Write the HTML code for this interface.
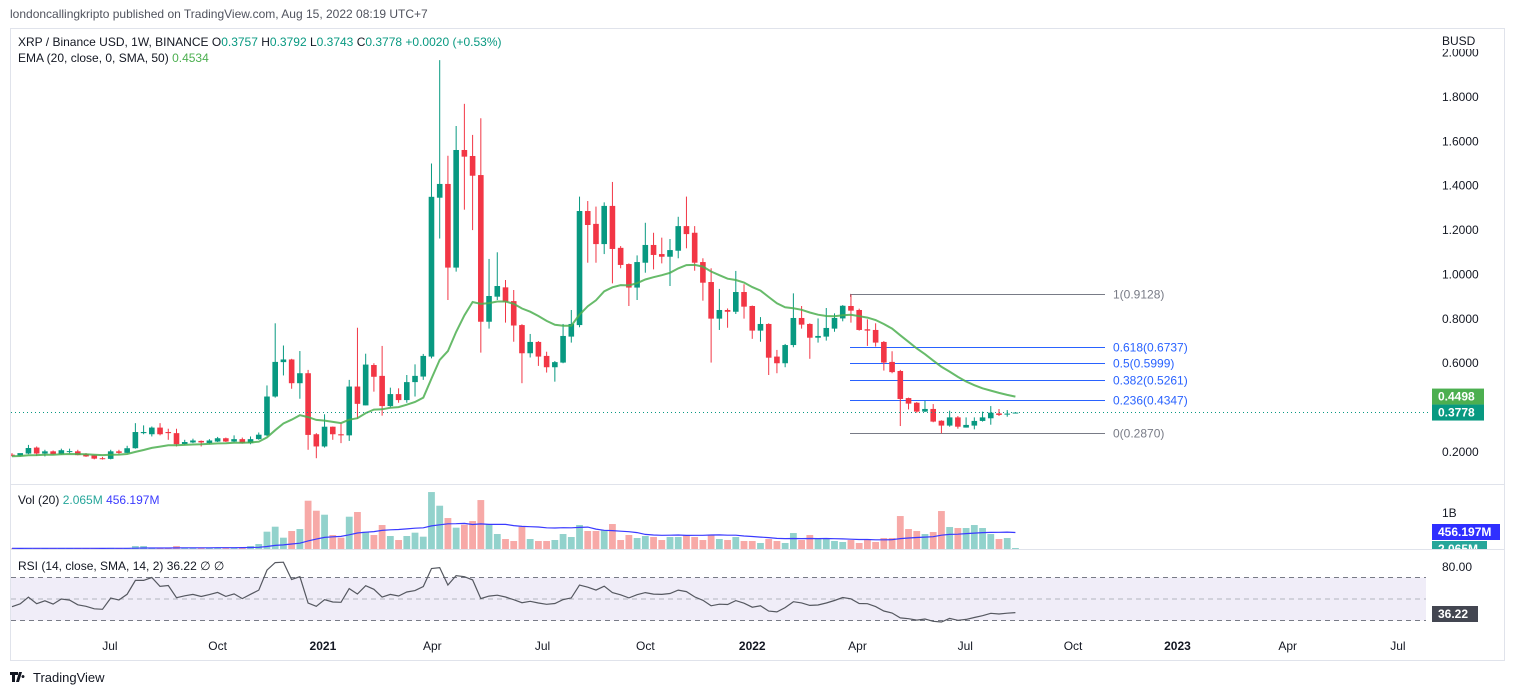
<!DOCTYPE html>
<html><head><meta charset="utf-8">
<style>
html,body{margin:0;padding:0;background:#fff;width:1514px;height:695px;overflow:hidden;font-family:"Liberation Sans",sans-serif;}
svg text{font-family:"Liberation Sans",sans-serif;}
</style></head>
<body>
<svg id="chart" width="1514" height="695" viewBox="0 0 1514 695" xmlns="http://www.w3.org/2000/svg">
  <defs>
    <clipPath id="pclip"><rect x="11" y="29" width="1415" height="455"/></clipPath>
    <clipPath id="aclip"><rect x="1426" y="49" width="80" height="436"/></clipPath>
    <clipPath id="vclip"><rect x="11" y="485" width="1493" height="64"/></clipPath>
    <clipPath id="vlclip"><rect x="1426" y="485" width="80" height="64"/></clipPath>
  </defs>
  <text x="10" y="18" font-size="12" fill="#50535e">londoncallingkripto published on TradingView.com, Aug 15, 2022 08:19 UTC+7</text>
  <rect x="10.5" y="28.5" width="1494" height="632" fill="none" stroke="#e0e3eb"/>
  <line x1="10" y1="484.5" x2="1505" y2="484.5" stroke="#e0e3eb"/>
  <line x1="10" y1="549.5" x2="1505" y2="549.5" stroke="#e0e3eb"/>
  <g id="rsiBand"></g>
  <g id="axisLabels" clip-path="url(#aclip)"></g>
  <g id="fib"></g>
  <g id="candles" clip-path="url(#pclip)"></g>
  <g id="vol" clip-path="url(#vclip)"></g>
  <g id="rsi"></g>
  <g id="time"></g>
  <g id="labels"></g>
  <g id="vlabels" clip-path="url(#vlclip)"></g>
  <text x="18" y="46" font-size="12" fill="#131722">XRP / Binance USD, 1W, BINANCE <tspan fill="#131722">O</tspan><tspan fill="#089981">0.3757</tspan> <tspan>H</tspan><tspan fill="#089981">0.3792</tspan> <tspan>L</tspan><tspan fill="#089981">0.3743</tspan> <tspan>C</tspan><tspan fill="#089981">0.3778 +0.0020 (+0.53%)</tspan></text>
  <text x="18" y="62" font-size="12" fill="#131722">EMA (20, close, 0, SMA, 50) <tspan fill="#4caf50">0.4534</tspan></text>
  <text x="18" y="504" font-size="12" fill="#131722">Vol (20) <tspan fill="#26a69a">2.065M</tspan> <tspan fill="#3a3aff">456.197M</tspan></text>
  <text x="18" y="570" font-size="12" fill="#131722">RSI (14, close, SMA, 14, 2) 36.22 <tspan>∅</tspan> <tspan>∅</tspan></text>
  <text x="1442" y="45" font-size="12" fill="#131722">BUSD</text>
  <text x="1442" y="517" font-size="12" fill="#131722">1B</text>
  <text x="1442" y="571" font-size="12" fill="#131722">80.00</text>
  <g>
    <path d="M10 672h8v3h-3v7h-3v-7h-2z M19 672h3l-3 10h-3z M23 675a1.5 1.5 0 1 0 0.01 0z" fill="#131722"/>
    <text x="33" y="682" font-size="13" fill="#131722">TradingView</text>
  </g>
</svg>
<script>
const opens=[.188,.183,.193,.220,.193,.203,.19,.2,.203,.19,.185,.172,.169,.203,.196,.217,.285,.28,.31,.29,.285,.236,.243,.25,.24,.247,.262,.247,.258,.24,.258,.275,.45,.605,.617,.51,.555,.28,.225,.314,.28,.275,.495,.41,.592,.543,.407,.461,.434,.515,.54,.63,1.346,1.408,1.031,1.561,1.534,1.448,.787,.9,.942,.88,.772,.645,.696,.633,.582,.603,.72,.772,1.286,1.228,1.137,1.309,1.12,1.047,.941,1.053,1.133,1.092,1.08,1.107,1.218,1.188,1.056,.966,.801,.84,.832,.921,.858,.747,.777,.63,.6,.682,.804,.777,.715,.72,.756,.802,.858,.84,.753,.75,.696,.606,.565,.443,.422,.382,.394,.341,.319,.356,.31,.319,.34,.352,.374,.37,.3757];
const highs=[.195,.19,.232,.225,.21,.207,.215,.215,.21,.195,.187,.178,.21,.21,.228,.33,.32,.315,.33,.305,.305,.255,.26,.252,.258,.268,.265,.275,.265,.27,.288,.5,.78,.68,.62,.655,.57,.285,.37,.315,.33,.525,.76,.643,.6,.678,.49,.487,.547,.595,.642,1.5,1.966,1.535,1.669,1.769,1.629,1.704,1.07,1.1,.975,.93,.776,.732,.7,.652,.61,.777,.84,1.351,1.331,1.306,1.325,1.417,1.128,1.05,1.086,1.233,1.188,1.166,1.16,1.26,1.351,1.218,1.073,1.028,.935,.847,1.016,.956,.86,.808,.78,.66,.687,.915,.858,.78,.802,.849,.825,.862,.91,.846,.798,.78,.7,.654,.57,.445,.425,.431,.416,.343,.386,.362,.356,.356,.382,.407,.394,.389,.3792];
const lows=[.18,.18,.19,.182,.18,.188,.188,.193,.185,.178,.167,.166,.167,.19,.195,.215,.28,.27,.275,.255,.225,.232,.24,.225,.235,.245,.245,.243,.238,.235,.255,.272,.445,.545,.485,.44,.21,.172,.22,.255,.24,.25,.35,.41,.472,.364,.40,.422,.422,.45,.525,.622,1.162,.885,1.013,1.292,1.2,.648,.756,.885,.783,.697,.51,.626,.588,.558,.517,.6,.693,.762,1.053,1.053,1.092,.96,1.028,.858,.885,1.008,1.023,1.05,.948,1.073,1.118,1.017,.882,.603,.75,.76,.822,.801,.71,.697,.547,.555,.582,.672,.756,.62,.693,.702,.742,.789,.783,.747,.678,.675,.567,.555,.317,.392,.377,.38,.334,.284,.314,.305,.31,.302,.337,.323,.362,.359,.3743];
const closes=[.186,.195,.218,.193,.203,.19,.208,.204,.186,.18,.17,.168,.203,.196,.217,.29,.29,.31,.28,.285,.235,.245,.252,.243,.252,.262,.247,.258,.24,.258,.278,.45,.606,.617,.51,.555,.277,.225,.314,.28,.275,.495,.417,.594,.539,.407,.461,.434,.515,.543,.633,1.35,1.408,1.031,1.561,1.531,1.445,.787,.903,.948,.877,.77,.645,.696,.63,.582,.605,.723,.777,1.286,1.223,1.137,1.309,1.115,1.043,.941,1.056,1.133,1.088,1.08,1.11,1.218,1.182,1.053,.963,.801,.84,.832,.921,.855,.747,.777,.625,.6,.682,.804,.774,.715,.723,.759,.804,.859,.837,.75,.747,.693,.603,.56,.439,.418,.382,.394,.337,.319,.356,.314,.322,.34,.356,.377,.367,.373,.3778];
const volumes=[20,15,25,20,15,15,20,15,20,15,18,12,30,15,25,80,80,40,40,35,80,35,30,35,30,35,30,35,30,80,135,468,603,306,486,540,1305,1035,927,378,306,873,1000,468,378,648,351,243,351,441,333,1539,1170,837,576,657,756,1323,666,405,270,216,603,270,216,216,243,405,324,648,486,486,513,675,243,378,297,351,324,243,324,324,378,324,243,378,270,243,324,216,216,162,270,216,162,432,243,378,297,297,216,189,243,162,243,189,297,297,891,540,486,405,459,1026,594,567,567,648,567,405,270,297,27];
const priceTicks=[0.2,0.6,0.8,1.0,1.2,1.4,1.6,1.8,2.0];
const fibLevels=[0,0.236,0.382,0.5,0.618,1];
const fibLow=0.2870, fibHigh=0.9128;
const timeLabels=["Jul","Oct","2021","Apr","Jul","Oct","2022","Apr","Jul","Oct","2023","Apr","Jul"];
const timeWeeks=[11.9,25.0,37.8,51.1,64.5,77.0,90.0,102.8,115.9,129.0,141.7,155.1,168.5];

const NS="http://www.w3.org/2000/svg";
function mk(tag,attrs,parent){const e=document.createElementNS(NS,tag);for(const k in attrs)e.setAttribute(k,attrs[k]);parent.appendChild(e);return e;}
const xOf=i=>12+i*8.225;
const yP=p=>452-(p-0.2)*221.9;
const yV=v=>549-v*0.037;
const yR=r=>599-(r-50)*1.075;
const UP="#089981",DN="#f23645";

const ax=document.getElementById('axisLabels');
priceTicks.forEach(t=>{const e=mk('text',{x:1442,y:yP(t)+4,'font-size':12,fill:'#131722'},ax);e.textContent=t.toFixed(4);

});

const cg=document.getElementById('candles');
const last=closes[closes.length-1];
const dl=mk('line',{x1:11,x2:1430,y1:yP(last),y2:yP(last),stroke:UP,'stroke-width':1,'stroke-dasharray':'1 3'},document.getElementById('chart'));



for(let i=0;i<opens.length;i++){
  const up=closes[i]>=opens[i];const col=up?UP:DN;const x=xOf(i);
  const g=mk('g',{},cg);
  
  
  mk('line',{x1:x,x2:x,y1:yP(highs[i]),y2:yP(lows[i]),stroke:col,'stroke-width':1},g);
  const t=yP(Math.max(opens[i],closes[i])),b=yP(Math.min(opens[i],closes[i]));
  mk('rect',{x:x-2.8,y:t,width:5.6,height:Math.max(1,b-t),fill:col},g);
}
let ema=0.18;const emaPts=[];
closes.forEach((c,i)=>{ema=ema+(c-ema)*2/21;emaPts.push(xOf(i).toFixed(1)+','+yP(ema).toFixed(1));});
const el=mk('polyline',{points:emaPts.join(' '),fill:'none',stroke:'#4caf50','stroke-width':2,'stroke-opacity':0.85},cg);



const fg=document.getElementById('fib');
fibLevels.forEach(l=>{const p=fibLow+(fibHigh-fibLow)*l;const y=Math.round(yP(p))+0.5;
  const col=(l===0||l===1)?'#787b86':'#2962ff';
  const ln=mk('line',{x1:850,x2:1105,y1:y,y2:y,stroke:col,'stroke-width':1},fg);
  
  
  const tx=mk('text',{x:1113,y:y+4,'font-size':12,fill:col},fg);tx.textContent=l+'('+p.toFixed(4)+')';
  
  
});
mk('line',{x1:850.5,x2:850.5,y1:yP(fibHigh),y2:yP(fibHigh)+3,stroke:'#787b86'},fg);

const vg=document.getElementById('vol');
volumes.forEach((v,i)=>{const up=closes[i]>=opens[i];const x=xOf(i);
  const r=mk('rect',{x:x-3.4,y:yV(v),width:6.8,height:549-yV(v),fill:up?'#92d2cc':'#f7a9a7'},vg);
  
  });
const maPts=[];
volumes.forEach((v,i)=>{const s=volumes.slice(Math.max(0,i-19),i+1);const m=s.reduce((a,b)=>a+b,0)/s.length;maPts.push(xOf(i).toFixed(1)+','+yV(m).toFixed(1));});
const vm=mk('polyline',{points:maPts.join(' '),fill:'none',stroke:'#3a3aff','stroke-width':1.2},vg);



const rb=document.getElementById('rsiBand');
mk('rect',{x:11,y:yR(70),width:1415,height:yR(30)-yR(70),fill:'#f0edf8'},rb);
[70,30].forEach(l=>mk('line',{x1:11,x2:1426,y1:yR(l),y2:yR(l),stroke:'#787b86','stroke-dasharray':'5 4'},rb));
mk('line',{x1:11,x2:1426,y1:yR(50),y2:yR(50),stroke:'#b2b5be','stroke-dasharray':'5 4'},rb);

let ag=0.006,al=0.008;const rPts=[];
closes.forEach((c,i)=>{if(i>0){const d=c-closes[i-1];ag=(ag*13+Math.max(d,0))/14;al=(al*13+Math.max(-d,0))/14;}
  const r=100-100/(1+ag/al);rPts.push(xOf(i).toFixed(1)+','+yR(r).toFixed(1));});
const rl=mk('polyline',{points:rPts.join(' '),fill:'none',stroke:'#555860','stroke-width':1.2},document.getElementById('rsi'));



const tg=document.getElementById('time');
timeLabels.forEach((t,i)=>{const bold=/^\d/.test(t);const e=mk('text',{x:xOf(timeWeeks[i]),y:650,'font-size':12,'text-anchor':'middle',fill:'#131722','font-weight':bold?'bold':'normal'},tg);e.textContent=t;

});

function box(parent,y,txt,bg,w,name){const g=mk('g',{},parent);
  
  
  mk('rect',{x:1432,y:y-8,width:w,height:16,fill:bg},g);
  const t=mk('text',{x:1438,y:y+4,'font-size':12,'font-weight':'bold',fill:'#fff'},g);t.textContent=txt;}
const lg=document.getElementById('labels');
const vlg=document.getElementById('vlabels');
box(lg,yP(ema),ema.toFixed(4),'#4caf50',52,'ema-value-label');
box(lg,yP(last),last.toFixed(4),UP,52,'price-value-label');
box(vlg,549,'2.065M','#26a69a',55,'volume-value-label');
box(vlg,532,'456.197M','#2f2fff',68,'volume-ma-value-label');
box(lg,614,'36.22','#434651',46,'rsi-value-label');
</script>
</body></html>
